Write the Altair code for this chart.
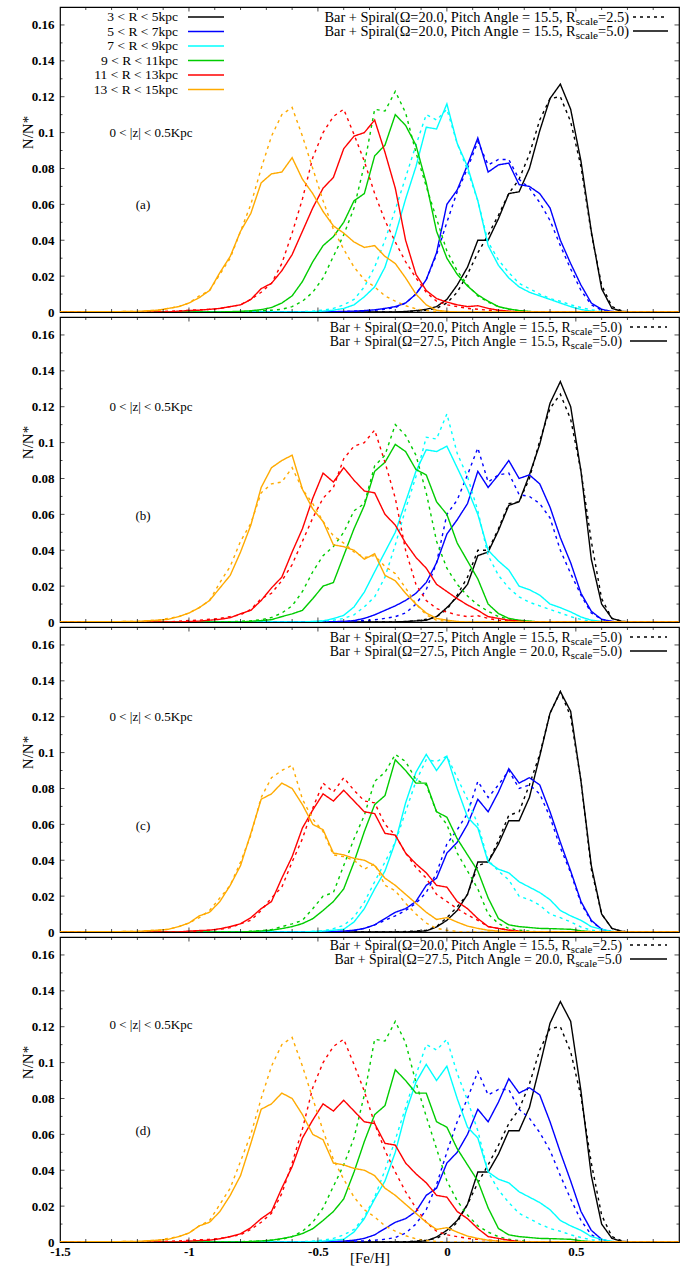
import altair as alt
import pandas as pd

FONT = "Liberation Serif"

# bin centres of [Fe/H]
FEH = [-1.50,
       -1.20, -1.16, -1.12, -1.08, -1.04, -1.00, -0.96, -0.92, -0.88, -0.84,
       -0.80, -0.76, -0.72, -0.68, -0.64, -0.60, -0.56, -0.52, -0.48, -0.44,
       -0.40, -0.36, -0.32, -0.28, -0.24, -0.20, -0.16, -0.12, -0.08, -0.04,
       0.00, 0.04, 0.08, 0.12, 0.16, 0.20, 0.24, 0.28, 0.32, 0.36,
       0.40, 0.44, 0.48, 0.52, 0.56, 0.60, 0.64, 0.68, 0.72,
       0.90]

# ---- model A : Omega=20.0, pitch 15.5, Rscale=2.5 ----
BLACK_A = [0, 0, 0, 0, 0, 0, 0, 0, 0, 0, 0, 0, 0, 0, 0, 0, 0, 0, 0, 0, 0,
           0, 0, 0, 0, 0, 0, .0002, .0005, .001, .002,
           .005, .011, .021, .033, .043, .054, .066, .074, .088, .107,
           .119, .120, .106, .081, .044, .015, .003, .0005, 0, 0]
BLUE_A = [0, 0, 0, 0, 0, 0, 0, 0, 0, 0, 0, 0, 0, 0, 0, 0, 0, 0, 0, 0, 0,
          .0002, .0004, .0006, .001, .0015, .0025, .005, .010, .018, .032,
          .050, .067, .080, .095, .082, .085, .085, .074, .069, .061,
          .051, .037, .024, .012, .004, .001, .0002, 0, 0, 0]
CYAN_A = [0, 0, 0, 0, 0, 0, 0, 0, 0, 0, 0,
          0, 0, 0, 0, 0, 0, .0002, .0005, .001, .002,
          .004, .007, .014, .025, .040, .057, .075, .093, .110, .107,
          .113, .094, .079, .062, .039, .029, .022, .016, .013, .010,
          .0075, .006, .004, .0025, .0012, .0004, 0, 0, 0, 0]
GREEN_A = [0, 0, 0, 0, 0, 0, 0, 0, 0, 0, 0,
           .0002, .0004, .0006, .001, .0015, .003, .006, .011, .019, .031,
           .043, .058, .082, .113, .112, .123, .111, .089, .070, .052,
           .034, .023, .015, .009, .0055, .003, .0015, .0008, .0003, 0,
           0, 0, 0, 0, 0, 0, 0, 0, 0, 0]
RED_A = [0, 0, 0, .0002, .0004, .0006, .001, .0012, .0015, .002, .003,
         .004, .007, .011, .016, .027, .044, .063, .086, .100, .109,
         .113, .099, .084, .066, .051, .039, .028, .019, .011, .006,
         .004, .003, .002, .0015, .001, .0005, .0002, 0, 0, 0,
         0, 0, 0, 0, 0, 0, 0, 0, 0, 0]
ORANGE_A = [0, .0003, .0006, .001, .002, .003, .005, .009, .012, .021, .030,
            .045, .060, .080, .098, .110, .114, .098, .080, .062, .046,
            .035, .025, .018, .014, .009, .006, .0035, .0018, .0008, .0003,
            0, 0, 0, 0, 0, 0, 0, 0, 0, 0,
            0, 0, 0, 0, 0, 0, 0, 0, 0, 0]

# ---- model B : Omega=20.0, pitch 15.5, Rscale=5.0 ----
BLACK_B = [0, 0, 0, 0, 0, 0, 0, 0, 0, 0, 0, 0, 0, 0, 0, 0, 0, 0, 0, 0, 0,
           0, 0, 0, 0, 0, 0, .0003, .0008, .0015, .003,
           .007, .015, .025, .040, .040, .052, .066, .067, .080, .101,
           .119, .127, .113, .084, .045, .013, .002, .0003, 0, 0]
BLUE_B = [0, 0, 0, 0, 0, 0, 0, 0, 0, 0, 0,
          0, 0, 0, 0, 0, 0, 0, 0, 0, .0002,
          .0003, .0005, .0008, .0012, .002, .003, .005, .010, .018, .033,
          .060, .068, .082, .097, .078, .082, .083, .071, .070, .066,
          .058, .040, .027, .015, .005, .0015, .0003, 0, 0, 0]
CYAN_B = [0, 0, 0, 0, 0, 0, 0, 0, 0, 0, 0,
          0, 0, 0, 0, 0, 0, 0, .0002, .0005, .001,
          .002, .004, .0085, .014, .025, .043, .063, .081, .103, .102,
          .116, .094, .081, .062, .037, .026, .019, .014, .011, .009,
          .007, .005, .003, .0014, .0005, 0, 0, 0, 0, 0]
GREEN_B = [0, 0, 0, 0, 0, 0, 0, 0, 0, 0, .0002,
           .0004, .0007, .0013, .0025, .005, .009, .017, .028, .037, .042,
           .050, .062, .066, .087, .093, .110, .104, .093, .072, .045,
           .030, .021, .0145, .0095, .006, .003, .0017, .0008, .0003, 0,
           0, 0, 0, 0, 0, 0, 0, 0, 0, 0]
RED_B = [0, 0, 0, 0, 0, .0005, .0008, .001, .0015, .002, .003,
         .004, .007, .013, .016, .023, .032, .045, .058, .069, .075,
         .091, .098, .100, .107, .089, .069, .040, .021, .012, .0075,
         .0055, .004, .003, .0035, .002, .001, .0005, 0, 0, 0,
         0, 0, 0, 0, 0, 0, 0, 0, 0, 0]
ORANGE_B = [0, .0003, .0007, .001, .002, .003, .005, .008, .012, .022, .031,
            .045, .055, .072, .077, .078, .086, .074, .066, .056, .048,
            .044, .039, .036, .037, .031, .027, .019, .010, .004, .001,
            .0003, 0, 0, 0, 0, 0, 0, 0, 0, 0,
            0, 0, 0, 0, 0, 0, 0, 0, 0, 0]

# ---- model C : Omega=27.5, pitch 15.5, Rscale=5.0 ----
BLACK_C = [0, 0, 0, 0, 0, 0, 0, 0, 0, 0, 0, 0, 0, 0, 0, 0, 0, 0, 0, 0, 0,
           0, 0, 0, 0, 0, 0, .0003, .0006, .001, .003,
           .008, .014, .021, .037, .039, .051, .065, .067, .082, .099,
           .122, .134, .120, .084, .035, .010, .002, .0003, 0, 0]
BLUE_C = [0, 0, 0, 0, 0, 0, 0, 0, 0, 0, 0,
          0, 0, 0, 0, 0, 0, 0, 0, 0, .0002,
          .0003, .0008, .002, .004, .0065, .009, .012, .016, .022, .033,
          .049, .057, .066, .084, .075, .082, .090, .080, .082, .077,
          .064, .047, .033, .016, .006, .0015, .0003, 0, 0, 0]
CYAN_C = [0, 0, 0, 0, 0, 0, 0, 0, 0, 0, 0,
          0, 0, 0, 0, 0, 0, 0, .0003, .0006, .0019,
          .0037, .0084, .0167, .028, .039, .050, .067, .084, .096, .095,
          .098, .086, .074, .060, .040, .034, .029, .020, .018, .015,
          .010, .008, .0056, .0028, .001, .0003, 0, 0, 0, 0]
GREEN_C = [0, 0, 0, 0, 0, 0, 0, 0, 0, 0, 0,
           0, .0004, .0008, .0013, .003, .0045, .0065, .013, .020, .022,
           .037, .052, .065, .084, .089, .099, .095, .085, .082, .067,
           .060, .044, .034, .024, .010, .0047, .002, .001, .0005, 0,
           0, 0, 0, 0, 0, 0, 0, 0, 0, 0]
RED_C = [0, 0, 0, 0, 0, 0, .0003, .0005, .001, .0015, .0024,
         .0046, .0065, .012, .019, .025, .039, .052, .069, .083, .078,
         .086, .079, .073, .072, .060, .054, .044, .036, .030, .021,
         .017, .013, .0095, .0065, .003, .002, .001, .0005, 0, 0,
         0, 0, 0, 0, 0, 0, 0, 0, 0, 0]
ORANGE_C = [0, .0003, .0007, .001, .0015, .003, .005, .008, .012, .019, .026,
            .039, .054, .075, .086, .090, .093, .074, .063, .056, .043,
            .042, .040, .035, .038, .026, .023, .016, .010, .005, .002,
            .001, .0003, 0, 0, 0, 0, 0, 0, 0, 0,
            0, 0, 0, 0, 0, 0, 0, 0, 0, 0]

# ---- model D : Omega=27.5, pitch 20.0, Rscale=5.0 ----
BLACK_D = [0, 0, 0, 0, 0, 0, 0, 0, 0, 0, 0, 0, 0, 0, 0, 0, 0, 0, 0, 0, 0,
           0, 0, 0, 0, 0, 0, 0, .0003, .0006, .0028,
           .0065, .012, .021, .039, .039, .049, .062, .062, .075, .098,
           .122, .134, .123, .084, .037, .010, .002, .0003, 0, 0]
BLUE_D = [0, 0, 0, 0, 0, 0, 0, 0, 0, 0, 0,
          0, 0, 0, 0, 0, 0, 0, 0, 0, .0003,
          .0005, .001, .002, .004, .0075, .011, .013, .017, .026, .030,
          .044, .050, .060, .074, .067, .078, .091, .083, .086, .082,
          .067, .050, .034, .017, .0065, .0015, 0, 0, 0, 0]
CYAN_D = [0, 0, 0, 0, 0, 0, 0, 0, 0, 0, 0,
          0, 0, 0, 0, 0, 0, 0, .0003, .0005, .001,
          .0015, .0056, .013, .024, .034, .050, .072, .089, .099, .090,
          .098, .080, .064, .058, .039, .035, .033, .028, .025, .022,
          .018, .012, .009, .0065, .003, .0015, .0003, 0, 0, 0]
GREEN_D = [0, 0, 0, 0, 0, 0, 0, 0, 0, 0, 0,
           0, .0003, .0006, .001, .0019, .003, .0047, .0074, .012, .017,
           .024, .039, .056, .071, .076, .096, .090, .083, .083, .067,
           .064, .052, .043, .034, .019, .0075, .004, .003, .0025, .002,
           .0019, .0017, .0015, .0007, .0002, 0, 0, 0, 0, 0]
RED_D = [0, 0, 0, 0, 0, 0, .0005, .0008, .001, .0018, .003,
         .0046, .008, .013, .017, .030, .042, .058, .068, .077, .073,
         .079, .073, .067, .066, .055, .054, .044, .038, .033, .026,
         .025, .017, .013, .0075, .003, .002, .001, .0003, 0, 0,
         0, 0, 0, 0, 0, 0, 0, 0, 0, 0]
ORANGE_D = [0, .0003, .0007, .001, .0015, .003, .005, .009, .011, .017, .026,
            .037, .055, .074, .077, .083, .080, .071, .060, .057, .044,
            .043, .041, .040, .037, .030, .026, .021, .016, .011, .007,
            .008, .0055, .0033, .002, .001, .0005, 0, 0, 0, 0,
            0, 0, 0, 0, 0, 0, 0, 0, 0, 0]

SETS = {
    "A": [BLACK_A, BLUE_A, CYAN_A, GREEN_A, RED_A, ORANGE_A],
    "B": [BLACK_B, BLUE_B, CYAN_B, GREEN_B, RED_B, ORANGE_B],
    "C": [BLACK_C, BLUE_C, CYAN_C, GREEN_C, RED_C, ORANGE_C],
    "D": [BLACK_D, BLUE_D, CYAN_D, GREEN_D, RED_D, ORANGE_D],
}
for k, v in SETS.items():
    for s in v:
        assert len(s) == len(FEH), (k, len(s))

COLORS = ["black", "blue", "cyan", "green", "red", "orange"]
HEX = ["#000000", "#0000ff", "#00ffff", "#00cc00", "#ff0000", "#ffaa00"]
R_LABELS = ["3 < R < 5kpc", "5 < R < 7kpc", "7 < R < 9kpc",
            "9 < R < 11kpc", "11 < R < 13kpc", "13 < R < 15kpc"]

Y_MAJOR = [0, 0.02, 0.04, 0.06, 0.08, 0.1, 0.12, 0.14, 0.16]
Y_MINOR = [0.01, 0.03, 0.05, 0.07, 0.09, 0.11, 0.13, 0.15]
X_LABELS = [-1.5, -1, -0.5, 0, 0.5]
X_MINOR = [-1.4, -1.3, -1.2, -1.1, -0.9, -0.8, -0.7, -0.6, -0.4, -0.3, -0.2,
           -0.1, 0.1, 0.2, 0.3, 0.4, 0.6, 0.7, 0.8]

MODELS = {
    "A": ("Bar + Spiral(\u03a9=20.0, Pitch Angle = 15.5, R", "scale", "=2.5)"),
    "B": ("Bar + Spiral(\u03a9=20.0, Pitch Angle = 15.5, R", "scale", "=5.0)"),
    "C": ("Bar + Spiral(\u03a9=27.5, Pitch Angle = 15.5, R", "scale", "=5.0)"),
    "D": ("Bar + Spiral(\u03a9=27.5, Pitch Angle = 20.0, R", "scale", "=5.0)"),
    "D_noparen": ("Bar + Spiral(\u03a9=27.5, Pitch Angle = 20.0, R", "scale", "=5.0"),
}

PANELS = [
    dict(tag="(a)", dotted="A", solid="B", keys=["A", "B"]),
    dict(tag="(b)", dotted="B", solid="C", keys=["B", "C"]),
    dict(tag="(c)", dotted="C", solid="D", keys=["C", "D"]),
    dict(tag="(d)", dotted="A", solid="D", keys=["A", "D_noparen"]),
]

# text layout inside each panel (pixels)
LAY = {
    "(a)": dict(fs=14.4, sfs=11.2, end=569, base=[14.5, 28.5], sdy=3.5,
                sx=(573, 608), zy=126, ty=198),
    "(b)": dict(fs=13.8, sfs=10.8, end=562, base=[14.5, 28.5], sdy=3.5,
                sx=(570, 607), zy=89.5, ty=199),
    "(c)": dict(fs=13.8, sfs=10.8, end=562, base=[14.5, 28.5], sdy=3.5,
                sx=(570, 607), zy=89.5, ty=199),
    "(d)": dict(fs=13.8, sfs=10.8, end=562, base=[12.5, 26.5], sdy=3.5,
                sx=(570, 607), zy=88, ty=194),
}

# Times advance widths (1/1000 em) for the short key pieces
TW = {"=": 564, ".": 250, ")": 333, "0": 500, "2": 500, "5": 500,
      "s": 389, "c": 444, "a": 444, "l": 278, "e": 444}


def tw(s, fs):
    return sum(TW.get(ch, 500) for ch in s) * fs / 1000.0


W, H = 619, 305
XS = alt.Scale(domain=[-1.5, 0.9], nice=False, zero=False)
YS = alt.Scale(domain=[0, 0.17], nice=False, zero=False)
CS = alt.Scale(domain=COLORS, range=HEX)
DS = alt.Scale(domain=["dot", "solid"], range=[[3, 4], [1, 0]])


def curves(dkey, skey):
    rows = []
    for ci, name in enumerate(COLORS):
        for style, key in (("dot", dkey), ("solid", skey)):
            for x, y in zip(FEH, SETS[key][ci]):
                rows.append({"x": x, "y": y, "c": name, "s": style,
                             "g": name + style})
    return pd.DataFrame(rows)


def panel(p, bottom):
    lay = LAY[p["tag"]]
    if bottom:
        xax = alt.Axis(values=X_LABELS, labelExpr="'' + datum.value",
                       labelFont=FONT, labelFontSize=13, labelFontWeight="bold",
                       labelColor="black", labelPadding=3, labelFlush=False,
                       ticks=False, domain=False, grid=False, title="[Fe/H]",
                       titleFont=FONT, titleFontSize=15, titleFontWeight="normal",
                       titleColor="black", titlePadding=-8)
    else:
        xax = alt.Axis(labels=False, ticks=False, domain=False, grid=False,
                       title=None)
    yax = alt.Axis(values=Y_MAJOR, labelExpr="'' + datum.value",
                   labelFont=FONT, labelFontSize=13, labelFontWeight="bold",
                   labelColor="black", labelPadding=6, labelFlush=False,
                   ticks=False, domain=False, grid=False, title="N/N*",
                   titleFont=FONT, titleFontSize=15, titleFontWeight="normal",
                   titleColor="black", titleX=-33, titleY=125, titleAngle=270,
                   titleAlign="center", titleBaseline="middle")

    lines = alt.Chart(curves(p["dotted"], p["solid"])).mark_line(
        strokeWidth=1.4, clip=True).encode(
        x=alt.X("x:Q", scale=XS, axis=xax),
        y=alt.Y("y:Q", scale=YS, axis=yax),
        color=alt.Color("c:N", scale=CS, legend=None),
        strokeDash=alt.StrokeDash("s:N", scale=DS, legend=None),
        detail="g:N",
    )

    yt = pd.DataFrame(
        [{"x": xp, "y": t, "sz": 9} for t in Y_MAJOR[1:] for xp in (-1.5, 0.9)] +
        [{"x": xp, "y": t, "sz": 5} for t in Y_MINOR for xp in (-1.5, 0.9)])
    xt = pd.DataFrame(
        [{"x": t, "y": yp, "sz": 9} for t in X_LABELS[1:] for yp in (0, 0.17)] +
        [{"x": t, "y": yp, "sz": 6} for t in X_MINOR for yp in (0, 0.17)])
    yticks = alt.Chart(yt).mark_tick(orient="horizontal", clip=True,
                                     color="black", thickness=1).encode(
        x=alt.X("x:Q", scale=XS, axis=xax),
        y=alt.Y("y:Q", scale=YS, axis=yax),
        size=alt.Size("sz:Q", scale=None, legend=None))
    xticks = alt.Chart(xt).mark_tick(orient="vertical", clip=True,
                                     color="black", thickness=1).encode(
        x=alt.X("x:Q", scale=XS, axis=xax),
        y=alt.Y("y:Q", scale=YS, axis=yax),
        size=alt.Size("sz:Q", scale=None, legend=None))

    layers = [lines, yticks, xticks]

    # model key (top right), right-justified like the reference key
    rows = []
    for i, k in enumerate(p["keys"]):
        p1, p2, p3 = MODELS[k]
        x3 = lay["end"] - tw(p3, lay["fs"])
        x2 = x3 - tw(p2, lay["sfs"])
        rows.append({"p1": p1, "p2": p2, "p3": p3, "x1": x2, "x2": x2,
                     "x3": x3, "yb": lay["base"][i], "ys": lay["base"][i] + lay["sdy"],
                     "ym": lay["base"][i] - 4.5,
                     "s": "dot" if i == 0 else "solid"})
    kd = pd.DataFrame(rows)
    base = alt.Chart(kd)
    layers += [
        base.mark_text(align="right", baseline="alphabetic", font=FONT,
                       fontSize=lay["fs"], color="black").encode(
            x=alt.X("x1:Q", scale=None), y=alt.Y("yb:Q", scale=None),
            text="p1:N"),
        base.mark_text(align="left", baseline="alphabetic", font=FONT,
                       fontSize=lay["sfs"], color="black").encode(
            x=alt.X("x2:Q", scale=None), y=alt.Y("ys:Q", scale=None),
            text="p2:N"),
        base.mark_text(align="left", baseline="alphabetic", font=FONT,
                       fontSize=lay["fs"], color="black").encode(
            x=alt.X("x3:Q", scale=None), y=alt.Y("yb:Q", scale=None),
            text="p3:N"),
        base.mark_rule(strokeWidth=1.4, color="black").encode(
            x=alt.value(lay["sx"][0]), x2=alt.value(lay["sx"][1]),
            y=alt.Y("ym:Q", scale=None),
            strokeDash=alt.StrokeDash("s:N", scale=DS, legend=None)),
    ]

    ann = pd.DataFrame([{"t": "0 < |z| < 0.5Kpc", "py": lay["zy"], "px": 91},
                        {"t": p["tag"], "py": lay["ty"], "px": 83}])
    layers.append(alt.Chart(ann).mark_text(
        align="center", baseline="middle", font=FONT, fontSize=13,
        color="black").encode(
        x=alt.X("px:Q", scale=None),
        y=alt.Y("py:Q", scale=None), text="t:N"))

    if p["tag"] == "(a)":
        lg = pd.DataFrame([{"lab": R_LABELS[i], "c": COLORS[i],
                            "py": 10 + 14.5 * i} for i in range(6)])
        lb = alt.Chart(lg)
        layers += [
            lb.mark_text(align="right", baseline="middle", font=FONT,
                         fontSize=13.5, color="black").encode(
                x=alt.value(118), y=alt.Y("py:Q", scale=None),
                text="lab:N"),
            lb.mark_rule(strokeWidth=1.6).encode(
                x=alt.value(128), x2=alt.value(164),
                y=alt.Y("py:Q", scale=None),
                color=alt.Color("c:N", scale=CS, legend=None)),
        ]
    return alt.layer(*layers).properties(width=W, height=H)


chart = alt.vconcat(
    *[panel(p, i == 3) for i, p in enumerate(PANELS)],
    spacing=5, bounds="flush",
).properties(
    padding={"left": 19, "top": 6, "right": 0, "bottom": 0},
    background="white",
).configure_view(stroke="black", strokeWidth=1.2)

chart.save("out.html", embed_options={"renderer": "svg", "actions": False})
